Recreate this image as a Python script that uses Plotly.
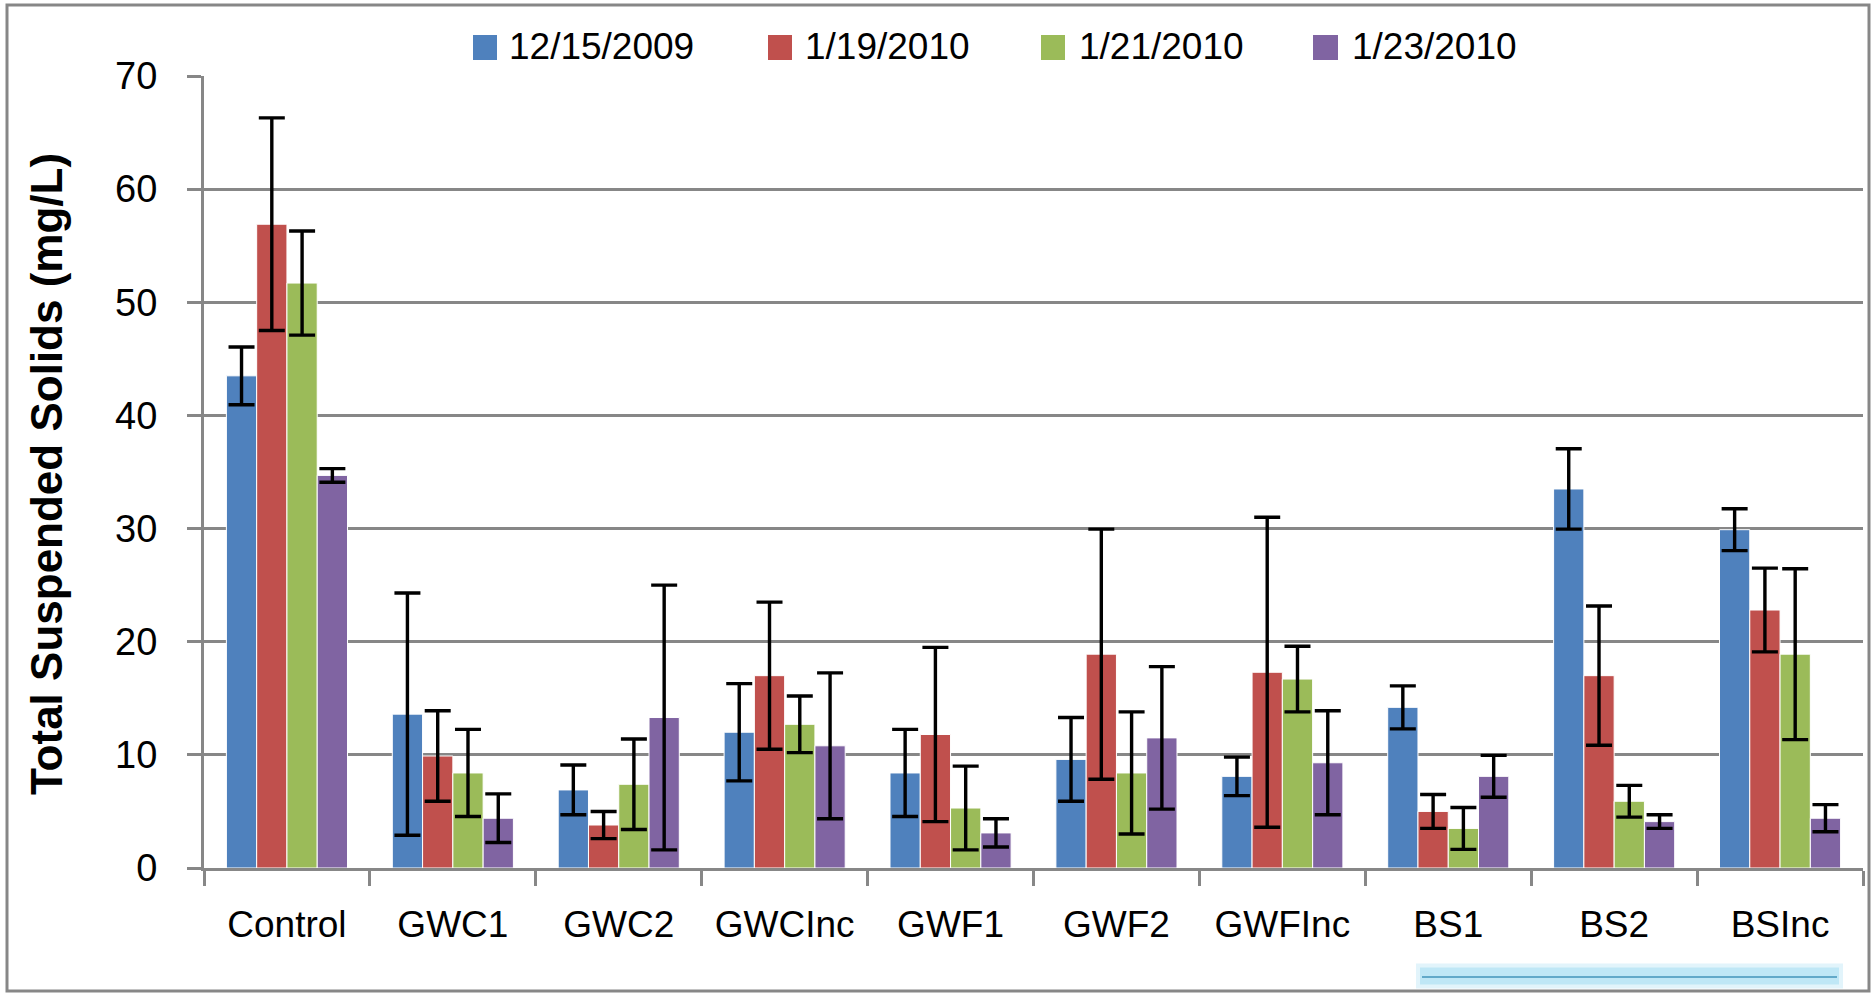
import plotly.graph_objects as go

# ---------------- data ----------------
categories = ["Control", "GWC1", "GWC2", "GWCInc", "GWF1", "GWF2", "GWFInc", "BS1", "BS2", "BSInc"]
dates = ["12/15/2009", "1/19/2010", "1/21/2010", "1/23/2010"]

tss_dec15 = [43.5, 13.6, 6.9, 12.0, 8.4, 9.6, 8.1, 14.2, 33.5, 29.9]
tss_jan19 = [56.9, 9.9, 3.8, 17.0, 11.8, 18.9, 17.3, 5.0, 17.0, 22.8]
tss_jan21 = [51.7, 8.4, 7.4, 12.7, 5.3, 8.4, 16.7, 3.5, 5.9, 18.9]
tss_jan23 = [34.7, 4.4, 13.3, 10.8, 3.1, 11.5, 9.3, 8.1, 4.1, 4.4]

err_dec15 = [2.55, 10.7, 2.2, 4.3, 3.85, 3.7, 1.7, 1.9, 3.55, 1.85]
err_jan19 = [9.4, 4.0, 1.2, 6.5, 7.7, 11.05, 13.7, 1.5, 6.15, 3.7]
err_jan21 = [4.6, 3.85, 4.0, 2.5, 3.7, 5.4, 2.9, 1.85, 1.4, 7.55]
err_jan23 = [0.6, 2.15, 11.7, 6.45, 1.25, 6.3, 4.6, 1.85, 0.6, 1.2]

y_ticks = [0, 10, 20, 30, 40, 50, 60, 70]
y_title = "Total Suspended Solids (mg/L)"

colors = ["#4F81BD", "#C0504D", "#9BBB59", "#8064A2"]
series = [tss_dec15, tss_jan19, tss_jan21, tss_jan23]
errors = [err_dec15, err_jan19, err_jan21, err_jan23]

# ---------------- layout geometry (pixels) ----------------
W, H = 1874, 994
PL, PR, PT, PB = 204, 1863, 76, 868
GRAY = "#878787"
FONT = "Liberation Sans, Arial, sans-serif"


def px(x):
    return (x - PL) / (PR - PL)


def py(y):
    return (PB - y) / (PB - PT)


fig = go.Figure()
for name, vals, errs, col in zip(dates, series, errors, colors):
    fig.add_trace(go.Bar(
        x=categories, y=vals, name=name,
        marker=dict(color=col, line=dict(color="white", width=1)),
        error_y=dict(type="data", array=errs, visible=True, color="black",
                     thickness=3.4, width=13),
        showlegend=False,
    ))

shapes = []
annotations = []

# custom legend
leg_sq = [(473, 497), (768, 792), (1041, 1065), (1313, 1338)]
leg_tx = [510, 806, 1080, 1353]
for (x0, x1), tx, name, col in zip(leg_sq, leg_tx, dates, colors):
    shapes.append(dict(type="rect", xref="paper", yref="paper",
                       x0=px(x0), x1=px(x1), y0=py(60), y1=py(35),
                       fillcolor=col, line=dict(width=0)))
    annotations.append(dict(text=name, xref="paper", yref="paper",
                            x=px(tx - 3), y=py(46), xanchor="left", yanchor="middle",
                            showarrow=False, font=dict(family=FONT, size=37, color="black")))

# y-axis title
annotations.append(dict(text="<b>" + y_title + "</b>", xref="paper", yref="paper",
                        x=px(46), y=py(474), xanchor="center", yanchor="middle",
                        textangle=-90, showarrow=False,
                        font=dict(family=FONT, size=44, color="black")))

# outer frame
shapes.append(dict(type="rect", xref="paper", yref="paper",
                   x0=px(7), x1=px(1869), y0=py(991), y1=py(5),
                   line=dict(color=GRAY, width=3), layer="below"))

# light-blue highlight (glow + line) at bottom right
shapes.append(dict(type="line", xref="paper", yref="paper",
                   x0=px(1416), x1=px(1843), y0=py(976), y1=py(976),
                   line=dict(color="#e2f4fb", width=25)))
shapes.append(dict(type="line", xref="paper", yref="paper",
                   x0=px(1420), x1=px(1839), y0=py(976), y1=py(976),
                   line=dict(color="#bfe7f6", width=17)))
shapes.append(dict(type="line", xref="paper", yref="paper",
                   x0=px(1422), x1=px(1837), y0=py(977), y1=py(977),
                   line=dict(color="#62a9c9", width=2)))

fig.update_layout(
    width=W, height=H,
    margin=dict(l=PL, r=W - PR, t=PT, b=H - PB, autoexpand=False),
    paper_bgcolor="white", plot_bgcolor="white",
    barmode="group", bargap=0.27, bargroupgap=0,
    shapes=shapes, annotations=annotations,
    showlegend=False,
    xaxis=dict(
        type="category", tickson="boundaries", ticks="outside", ticklen=15,
        tickwidth=3, tickcolor=GRAY, showline=True, linecolor=GRAY, linewidth=3,
        showgrid=False, ticklabelstandoff=22, tickangle=0,
        tickfont=dict(family=FONT, size=37, color="black"),
    ),
    yaxis=dict(
        range=[0, 70], tickvals=y_ticks, ticks="outside", ticklen=14,
        tickwidth=3, tickcolor=GRAY, showline=True, linecolor=GRAY, linewidth=3,
        showgrid=True, gridcolor=GRAY, gridwidth=3, zeroline=False,
        ticklabelstandoff=22,
        tickfont=dict(family=FONT, size=38, color="black"),
    ),
)

fig.write_html("out.html", config={"displayModeBar": False},
               post_script="document.body.style.margin='0';document.body.style.overflow='hidden';")
